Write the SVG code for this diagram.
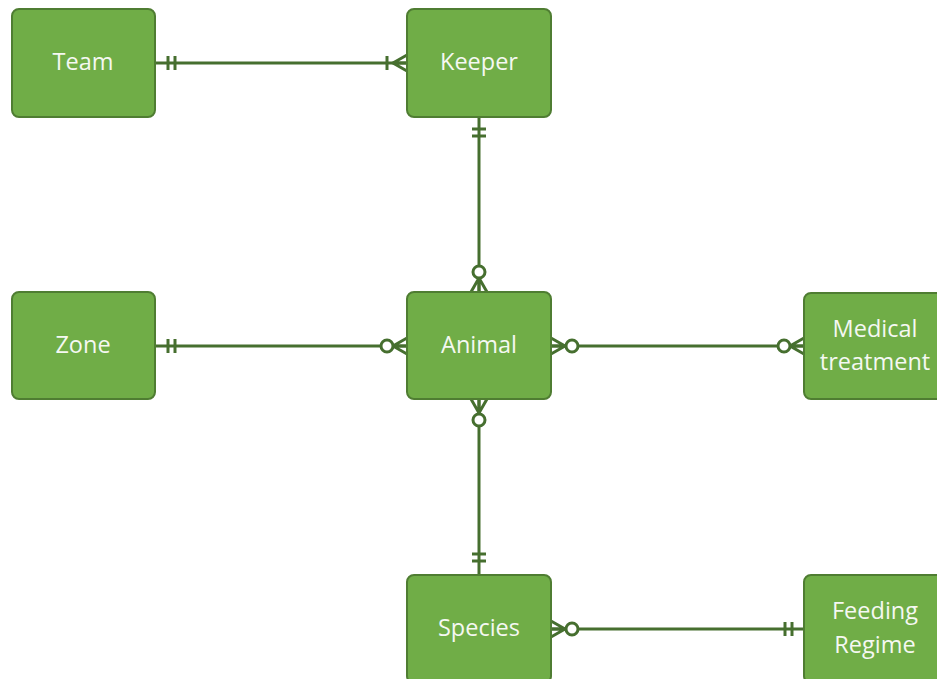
<svg xmlns="http://www.w3.org/2000/svg" width="937" height="679" viewBox="0 0 937 679">
<style>
.node rect{fill:#70ad47;stroke:#4f7d32;stroke-width:2}
.node text{fill:#f5f8f2;font-family:"Open Sans","Noto Sans",sans-serif;font-size:23.5px;text-anchor:middle;dominant-baseline:central}
.conn line,.conn path{stroke:#466f2f;stroke-width:3;fill:none}
.conn circle{stroke:#466f2f;stroke-width:3;fill:#fff}
</style>
<rect width="937" height="679" fill="#fff"/>
<g class="conn" id="connectors">
<!-- Team - Keeper -->
<line x1="155" y1="63" x2="407" y2="63"/>
<line x1="168" y1="56" x2="168" y2="70"/><line x1="175" y1="56" x2="175" y2="70"/>
<line x1="387" y1="56" x2="387" y2="70"/>
<path d="M407 55 L393 63 L407 71 M393 63 L407 63"/>
<!-- Keeper - Animal -->
<line x1="479" y1="117" x2="479" y2="292"/>
<line x1="472" y1="129" x2="486" y2="129"/><line x1="472" y1="136" x2="486" y2="136"/>
<path d="M471 292 L479 278 L487 292 M479 278 L479 292"/>
<circle cx="479" cy="272" r="6"/>
<!-- Zone - Animal -->
<line x1="155" y1="346" x2="407" y2="346"/>
<line x1="168" y1="339" x2="168" y2="353"/><line x1="175" y1="339" x2="175" y2="353"/>
<path d="M407 338 L393 346 L407 354 M393 346 L407 346"/>
<circle cx="387" cy="346" r="6"/>
<!-- Animal - Medical -->
<line x1="551" y1="346" x2="804" y2="346"/>
<path d="M551 338 L565 346 L551 354 M565 346 L551 346"/>
<circle cx="572" cy="346" r="6"/>
<path d="M804 338 L790 346 L804 354 M790 346 L804 346"/>
<circle cx="784" cy="346" r="6"/>
<!-- Animal - Species -->
<line x1="479" y1="399" x2="479" y2="575"/>
<path d="M471 399 L479 413 L487 399 M479 413 L479 399"/>
<circle cx="479" cy="420" r="6"/>
<line x1="472" y1="554" x2="486" y2="554"/><line x1="472" y1="561" x2="486" y2="561"/>
<!-- Species - Feeding -->
<line x1="551" y1="629" x2="804" y2="629"/>
<path d="M551 621 L565 629 L551 637 M565 629 L551 629"/>
<circle cx="572" cy="629" r="6"/>
<line x1="785" y1="622" x2="785" y2="636"/><line x1="792" y1="622" x2="792" y2="636"/>
</g>
<g class="node" id="team"><rect x="12" y="9" width="143" height="108" rx="7"/><text x="83" y="61">Team</text></g>
<g class="node" id="keeper"><rect x="407" y="9" width="144" height="108" rx="7"/><text x="479" y="61">Keeper</text></g>
<g class="node" id="zone"><rect x="12" y="292" width="143" height="107" rx="7"/><text x="83" y="344">Zone</text></g>
<g class="node" id="animal"><rect x="407" y="292" width="144" height="107" rx="7"/><text x="479" y="344">Animal</text></g>
<g class="node" id="medical"><rect x="804" y="293" width="144" height="106" rx="7"/><text x="875" y="328">Medical</text><text x="875" y="361">treatment</text></g>
<g class="node" id="species"><rect x="407" y="575" width="144" height="108" rx="7"/><text x="479" y="627">Species</text></g>
<g class="node" id="feeding"><rect x="804" y="575" width="144" height="108" rx="7"/><text x="875" y="610">Feeding</text><text x="875" y="644">Regime</text></g>
</svg>
